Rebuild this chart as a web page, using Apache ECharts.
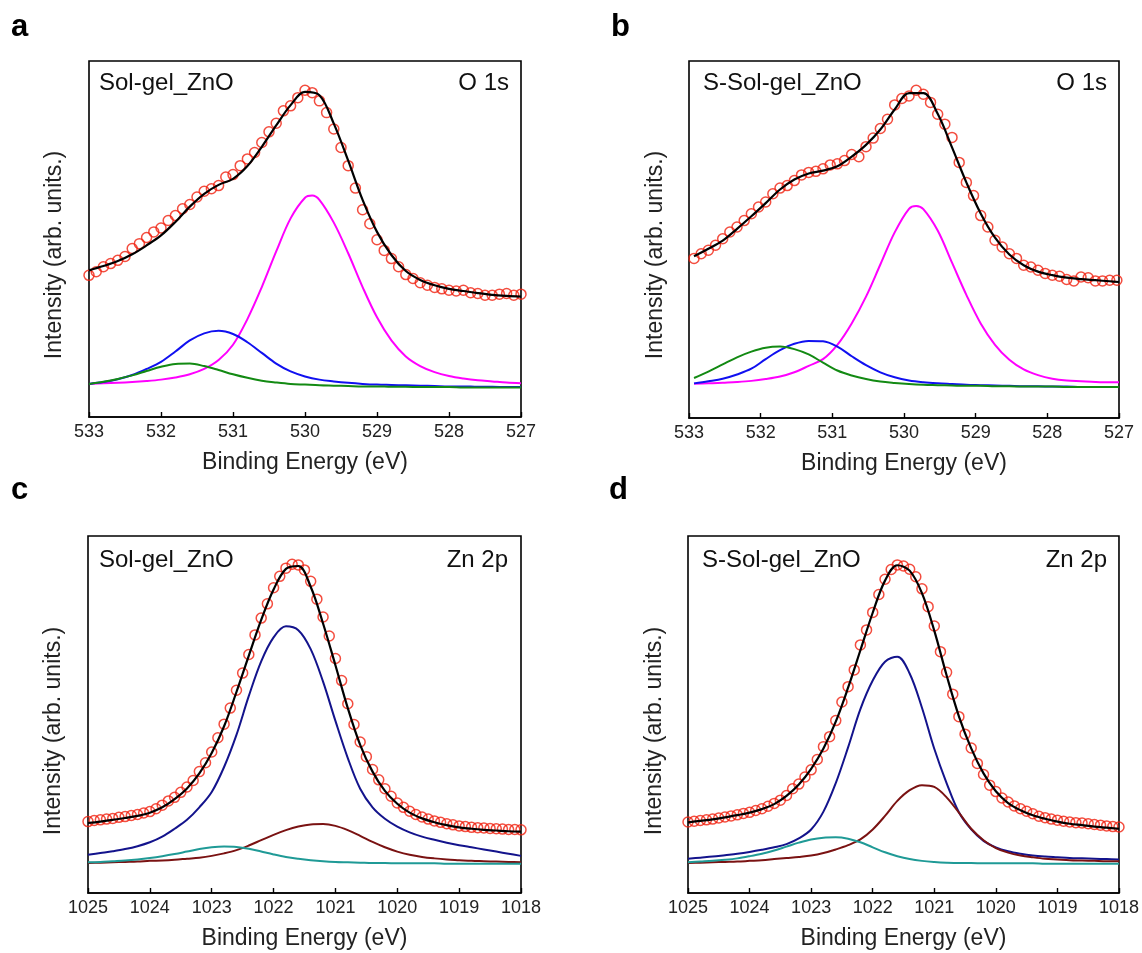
<!DOCTYPE html>
<html>
<head>
<meta charset="utf-8">
<script src="https://cdn.jsdelivr.net/npm/echarts@6/dist/echarts.min.js"></script>
<style>
html,body{margin:0;padding:0;background:#fff;}
#chart{width:1142px;height:953px;}
</style>
</head>
<body>
<div id="chart"></div>
<script>
// ---------- Panel a : Sol-gel_ZnO, O 1s ----------
const aDataX = [533.0,532.9,532.8,532.7,532.6,532.5,532.4,532.3,532.2,532.1,532.0,531.9,531.8,531.7,531.6,531.5,531.4,531.3,531.2,531.1,531.0,530.9,530.8,530.7,530.6,530.5,530.4,530.3,530.2,530.1,530.0,529.9,529.8,529.7,529.6,529.5,529.4,529.3,529.2,529.1,529.0,528.9,528.8,528.7,528.6,528.5,528.4,528.3,528.2,528.1,528.0,527.9,527.8,527.7,527.6,527.5,527.4,527.3,527.2,527.1,527.0];
const aDataY = [39.8,40.8,42.2,43.1,44.0,45.1,47.3,48.7,50.4,52.0,53.1,55.2,56.6,58.5,59.7,61.8,63.4,64.1,65.0,67.4,68.1,70.6,72.5,74.3,77.1,80.1,82.5,86.0,87.4,89.7,91.8,91.1,88.8,85.5,80.9,75.7,70.6,64.3,58.2,54.3,49.8,46.8,44.5,42.2,40.0,38.9,37.7,37.0,36.4,36.0,35.6,35.4,35.6,34.9,34.7,34.2,34.2,34.5,34.7,34.2,34.5];
const aCurveX = [533.0,532.8,532.6,532.4,532.2,532.0,531.8,531.6,531.4,531.2,531.0,530.8,530.6,530.4,530.2,530.0,529.8,529.6,529.4,529.2,529.0,528.8,528.6,528.4,528.2,528.0,527.8,527.6,527.4,527.2,527.0];
const aFit     = [41.2,42.4,43.8,45.7,48.2,51.0,54.8,59.1,62.7,65.2,66.9,70.5,75.9,81.9,87.6,91.3,90.4,82.4,72.0,61.0,52.0,45.5,41.0,38.5,37.0,36.0,35.4,34.8,34.3,34.0,33.8];
const aMagX    = [533.0,532.8,532.6,532.4,532.2,532.0,531.8,531.6,531.4,531.2,531.0,530.8,530.6,530.4,530.2,530.0,529.9,529.8,529.6,529.4,529.2,529.0,528.8,528.6,528.4,528.2,528.0,527.8,527.6,527.4,527.2,527.0];
const aMagenta = [9.3,9.5,9.6,9.8,10.1,10.5,11.1,12.0,13.5,16.0,20.3,27.5,36.5,46.5,55.8,61.6,62.2,61.0,54.6,46.0,36.5,28.0,21.5,17.0,14.3,12.6,11.5,10.8,10.3,10.0,9.7,9.5];
const aBlue    = [9.3,9.8,10.6,11.8,13.5,15.5,18.4,21.5,23.5,24.2,23.3,21.0,18.0,15.0,12.8,11.4,10.5,10.0,9.6,9.3,9.1,9.0,8.9,8.8,8.7,8.6,8.6,8.5,8.5,8.4,8.4];
const aGreen   = [9.3,9.9,10.7,11.7,12.9,14.1,14.9,15.0,14.3,13.2,12.0,11.0,10.2,9.7,9.3,9.1,8.9,8.8,8.7,8.6,8.6,8.5,8.5,8.4,8.4,8.4,8.3,8.3,8.3,8.3,8.3];

// ---------- Panel b : S-Sol-gel_ZnO, O 1s ----------
const bDataX = [532.93,532.83,532.73,532.63,532.53,532.43,532.33,532.23,532.13,532.03,531.93,531.83,531.73,531.63,531.53,531.43,531.33,531.23,531.13,531.03,530.93,530.83,530.73,530.63,530.53,530.43,530.33,530.23,530.13,530.03,529.93,529.83,529.73,529.63,529.53,529.43,529.33,529.23,529.13,529.03,528.93,528.83,528.73,528.63,528.53,528.43,528.33,528.23,528.13,528.03,527.93,527.83,527.73,527.63,527.53,527.43,527.33,527.23,527.13,527.03];
const bDataY = [44.7,46.0,47.0,48.4,50.2,52.1,53.5,55.3,57.2,59.1,60.5,62.8,64.4,65.1,66.5,68.1,68.8,69.1,69.8,70.9,71.2,72.1,73.8,73.2,76.0,78.4,81.1,83.7,87.7,89.5,90.2,91.8,90.7,88.4,85.1,82.3,78.6,71.6,66.0,62.3,56.7,53.5,49.8,47.9,46.0,44.7,42.8,42.3,41.4,40.5,40.0,39.7,38.8,38.4,39.5,39.3,38.4,38.4,38.6,38.6];
const bCurveX = [532.93,532.73,532.53,532.33,532.13,531.93,531.73,531.53,531.33,531.13,530.93,530.73,530.53,530.33,530.13,529.93,529.73,529.53,529.33,529.13,528.93,528.73,528.53,528.33,528.13,527.93,527.73,527.53,527.33,527.13,527.0];
const bFit     = [45.3,47.4,49.7,53.0,56.5,60.2,64.0,66.8,68.5,69.3,70.5,73.2,76.5,80.8,86.4,91.0,91.0,85.2,75.8,66.0,57.3,50.5,45.8,42.8,41.0,40.0,39.3,38.9,38.6,38.3,38.1];
const bMagX    = [532.93,532.73,532.53,532.33,532.13,531.93,531.73,531.53,531.33,531.13,530.93,530.73,530.53,530.33,530.13,529.93,529.83,529.73,529.53,529.33,529.13,528.93,528.73,528.53,528.33,528.13,527.93,527.73,527.53,527.33,527.13,527.0];
const bMagenta = [9.6,9.7,9.9,10.1,10.4,10.9,11.6,12.8,14.6,16.5,20.5,26.5,34.0,43.0,52.0,58.6,59.4,58.5,52.5,43.5,34.5,26.5,20.5,16.3,13.6,12.0,11.0,10.5,10.3,10.1,10.0,10.0];
const bBlue    = [9.7,10.3,11.0,12.2,13.8,16.5,19.0,20.8,21.6,21.5,20.0,17.3,14.8,12.8,11.4,10.5,10.0,9.7,9.5,9.3,9.2,9.1,9.0,8.9,8.9,8.8,8.8,8.7,8.7,8.7,8.7];
const bGreen   = [11.2,13.0,15.0,17.0,18.6,19.7,20.0,19.3,17.8,15.5,13.3,11.9,10.9,10.2,9.8,9.5,9.3,9.2,9.1,9.0,9.0,8.9,8.9,8.8,8.8,8.8,8.7,8.7,8.7,8.7,8.7];

// ---------- Panels c & d : Zn 2p ----------
const cdDataX = [1025.0,1024.9,1024.8,1024.7,1024.6,1024.5,1024.4,1024.3,1024.2,1024.1,1024.0,1023.9,1023.8,1023.7,1023.6,1023.5,1023.4,1023.3,1023.2,1023.1,1023.0,1022.9,1022.8,1022.7,1022.6,1022.5,1022.4,1022.3,1022.2,1022.1,1022.0,1021.9,1021.8,1021.7,1021.6,1021.5,1021.4,1021.3,1021.2,1021.1,1021.0,1020.9,1020.8,1020.7,1020.6,1020.5,1020.4,1020.3,1020.2,1020.1,1020.0,1019.9,1019.8,1019.7,1019.6,1019.5,1019.4,1019.3,1019.2,1019.1,1019.0,1018.9,1018.8,1018.7,1018.6,1018.5,1018.4,1018.3,1018.2,1018.1,1018.0];
const cdCurveX = [1025.0,1024.8,1024.6,1024.4,1024.2,1024.0,1023.8,1023.6,1023.4,1023.2,1023.0,1022.8,1022.6,1022.4,1022.2,1022.0,1021.8,1021.6,1021.4,1021.2,1021.0,1020.8,1020.6,1020.4,1020.2,1020.0,1019.8,1019.6,1019.4,1019.2,1019.0,1018.8,1018.6,1018.4,1018.2,1018.0];
// panel c : Sol-gel_ZnO
const cDataY = [20.0,20.3,20.5,20.7,20.9,21.2,21.4,21.7,22.0,22.4,22.8,23.6,24.6,25.8,26.8,28.2,29.7,31.5,34.0,36.5,39.5,43.5,47.3,51.8,56.8,61.6,66.8,72.3,77.0,81.0,85.5,88.7,91.0,92.1,91.9,90.5,87.3,82.3,77.3,72.0,65.7,59.5,53.0,47.2,42.3,38.2,34.6,31.7,29.2,27.1,25.2,24.0,22.9,22.0,21.3,20.7,20.2,19.8,19.4,19.1,18.8,18.6,18.4,18.3,18.2,18.1,18.0,17.9,17.8,17.8,17.7];
const cFit    = [19.6,20.0,20.5,21.0,21.6,22.5,24.0,26.3,29.3,33.5,39.2,46.7,56.3,66.5,76.5,85.0,90.8,91.6,85.8,75.5,63.8,51.8,41.5,34.0,28.6,25.0,22.5,20.9,19.8,19.0,18.4,18.0,17.7,17.5,17.3,17.2];
const cNavy   = [10.7,11.2,11.7,12.3,13.1,14.2,15.8,18.0,20.5,24.0,28.3,35.3,44.3,55.2,64.9,71.6,74.7,73.6,68.3,59.2,48.2,37.8,29.2,24.0,20.8,18.6,17.0,15.8,14.9,14.1,13.4,12.8,12.2,11.6,11.0,10.4];
const cMaroon = [8.4,8.5,8.6,8.7,8.8,9.0,9.1,9.3,9.6,9.9,10.4,11.1,12.0,13.3,14.8,16.3,17.6,18.6,19.2,19.3,18.8,17.6,16.0,14.3,12.8,11.6,10.7,10.1,9.7,9.4,9.2,9.0,8.9,8.8,8.7,8.6];
const cTeal   = [8.6,8.7,8.9,9.1,9.4,9.8,10.3,10.9,11.6,12.3,12.8,13.0,12.9,12.4,11.6,10.8,10.1,9.6,9.2,8.9,8.7,8.6,8.5,8.4,8.4,8.3,8.3,8.3,8.3,8.2,8.2,8.2,8.2,8.2,8.2,8.2];
// panel d : S-Sol-gel_ZnO
const dDataY = [19.9,20.1,20.3,20.5,20.7,21.0,21.3,21.6,21.9,22.3,22.6,23.1,23.6,24.3,25.1,26.0,27.3,29.2,30.5,32.5,34.5,37.4,41.0,43.8,48.3,53.5,57.8,62.5,69.5,73.7,78.6,83.6,87.9,90.6,91.9,91.6,90.7,88.6,85.2,80.2,74.8,67.6,61.8,55.7,49.4,44.5,40.6,36.3,33.2,30.2,28.4,26.6,25.5,24.4,23.6,22.9,22.2,21.5,21.1,20.7,20.4,20.1,19.9,19.7,19.6,19.4,19.2,19.0,18.8,18.6,18.5];
const dFit    = [19.8,20.2,20.6,21.2,21.8,22.5,23.5,24.9,27.2,30.4,34.8,40.5,48.0,57.5,68.0,78.5,87.5,91.8,90.3,84.0,73.5,61.0,49.5,40.5,33.5,28.5,25.2,23.2,21.8,20.8,20.0,19.4,19.0,18.6,18.3,18.0];
const dNavy   = [9.6,9.9,10.2,10.6,11.0,11.5,12.1,12.8,13.7,15.3,17.8,22.8,30.8,40.8,51.5,59.5,64.8,66.2,61.5,51.9,40.4,30.8,22.6,17.8,14.6,12.8,11.7,11.0,10.5,10.2,10.0,9.8,9.7,9.6,9.5,9.4];
const dMaroon = [8.4,8.5,8.6,8.7,8.8,9.0,9.2,9.5,9.8,10.1,10.5,11.2,12.2,13.4,15.0,17.8,21.6,25.8,28.8,30.2,29.7,26.8,22.5,18.0,14.8,12.6,11.3,10.5,10.0,9.6,9.4,9.2,9.1,9.0,8.9,8.9];
const dTeal   = [8.6,8.8,9.0,9.3,9.7,10.3,11.0,11.9,13.0,14.1,15.0,15.5,15.6,15.2,14.2,12.8,11.4,10.3,9.5,9.0,8.7,8.5,8.4,8.4,8.3,8.3,8.3,8.3,8.3,8.2,8.2,8.2,8.2,8.2,8.2,8.2];

// ---------- labels ----------
const panelLetters = ['a','b','c','d'];
const sampleNames  = ['Sol-gel_ZnO','S-Sol-gel_ZnO','Sol-gel_ZnO','S-Sol-gel_ZnO'];
const coreLevels   = ['O 1s','O 1s','Zn 2p','Zn 2p'];
const xTitle = 'Binding Energy (eV)';
const yTitle = 'Intensity (arb. units.)';

// ---------- layout ----------
const FONT = '"Liberation Sans", Arial, Helvetica, sans-serif';
const grids = [
  {left: 89,  top: 61,  width: 432, height: 356},
  {left: 689, top: 61,  width: 430, height: 357},
  {left: 88,  top: 536, width: 433, height: 357},
  {left: 688, top: 536, width: 431, height: 357}
];
const xRanges = [[527,533],[527,533],[1018,1025],[1018,1025]];

function zip(xs, ys){ return xs.map((x,i)=>[x, ys[i]]); }

const panels = [
  {data: zip(aDataX,aDataY), fit: zip(aCurveX,aFit),
   comps: [[zip(aMagX,aMagenta),'#ff00ff'],[zip(aCurveX,aBlue),'#1010f0'],[zip(aCurveX,aGreen),'#138a13']]},
  {data: zip(bDataX,bDataY), fit: zip(bCurveX,bFit),
   comps: [[zip(bMagX,bMagenta),'#ff00ff'],[zip(bCurveX,bBlue),'#1010f0'],[zip(bCurveX,bGreen),'#138a13']]},
  {data: zip(cdDataX,cDataY), fit: zip(cdCurveX,cFit),
   comps: [[zip(cdCurveX,cNavy),'#13138c'],[zip(cdCurveX,cMaroon),'#7a1212'],[zip(cdCurveX,cTeal),'#1f9a96']]},
  {data: zip(cdDataX,dDataY), fit: zip(cdCurveX,dFit),
   comps: [[zip(cdCurveX,dNavy),'#13138c'],[zip(cdCurveX,dMaroon),'#7a1212'],[zip(cdCurveX,dTeal),'#1f9a96']]}
];

const option = {
  animation: false,
  backgroundColor: '#fff',
  grid: grids.map(g => Object.assign({show: true, borderColor: '#000', borderWidth: 1.6, backgroundColor: 'transparent'}, g)),
  xAxis: grids.map((g,i) => ({
    type: 'value', gridIndex: i, inverse: true,
    min: xRanges[i][0], max: xRanges[i][1], interval: 1,
    name: xTitle, nameLocation: 'middle', nameGap: 34,
    nameTextStyle: {fontFamily: FONT, fontSize: 23, color: '#222'},
    axisLine: {show: true, lineStyle: {color: '#000', width: 1.6}},
    axisTick: {show: true, inside: true, length: 5, lineStyle: {color: '#000', width: 1.4}},
    axisLabel: {fontFamily: FONT, fontSize: 18, color: '#222', margin: 6, formatter: v => String(v)},
    splitLine: {show: false}
  })),
  yAxis: grids.map((g,i) => ({
    type: 'value', gridIndex: i, min: 0, max: 100,
    axisLine: {show: false}, axisTick: {show: false}, axisLabel: {show: false},
    splitLine: {show: false}
  })),
  series: [],
  graphic: []
};

panels.forEach((p, i) => {
  p.comps.forEach(([d, col]) => {
    option.series.push({type: 'line', xAxisIndex: i, yAxisIndex: i, data: d,
      showSymbol: false, smooth: 0.35, z: 2, silent: true,
      lineStyle: {color: col, width: 2}});
  });
  option.series.push({type: 'scatter', xAxisIndex: i, yAxisIndex: i, data: p.data,
    symbol: 'circle', symbolSize: 10, z: 3, silent: true,
    itemStyle: {color: 'rgba(0,0,0,0)', borderColor: '#f0200f', borderWidth: 1.5}});
  option.series.push({type: 'line', xAxisIndex: i, yAxisIndex: i, data: p.fit,
    showSymbol: false, smooth: 0.35, z: 4, silent: true,
    lineStyle: {color: '#000', width: 2.2}});
});

const letterPos = [[11,40],[611,40],[11,503],[609,503]];
const namePos   = [[99,83],[703,83],[99,560],[702,560]];
const corePos   = [[509,83],[1107,83],[508,560],[1107,560]];
const yTitlePos = [[55,255],[656,255],[54,731],[655,731]];
for (let i = 0; i < 4; i++) {
  option.graphic.push({type: 'text', left: letterPos[i][0], top: letterPos[i][1] - 28, z: 10,
    style: {text: panelLetters[i], font: 'bold 31px ' + FONT, fill: '#000'}});
  option.graphic.push({type: 'text', x: namePos[i][0], y: namePos[i][1], z: 10,
    style: {text: sampleNames[i], font: '24px ' + FONT, fill: '#111', textAlign: 'left', textVerticalAlign: 'middle'}});
  option.graphic.push({type: 'text', x: corePos[i][0], y: corePos[i][1], z: 10,
    style: {text: coreLevels[i], font: '24px ' + FONT, fill: '#111', textAlign: 'right', textVerticalAlign: 'middle'}});
  option.graphic.push({type: 'text', x: yTitlePos[i][0], y: yTitlePos[i][1], rotation: Math.PI / 2, z: 10,
    style: {text: yTitle, font: '23px ' + FONT, fill: '#222', textAlign: 'center', textVerticalAlign: 'middle'}});
}

const chart = echarts.init(document.getElementById('chart'), null, {renderer: 'canvas'});
chart.setOption(option);
</script>
</body>
</html>
